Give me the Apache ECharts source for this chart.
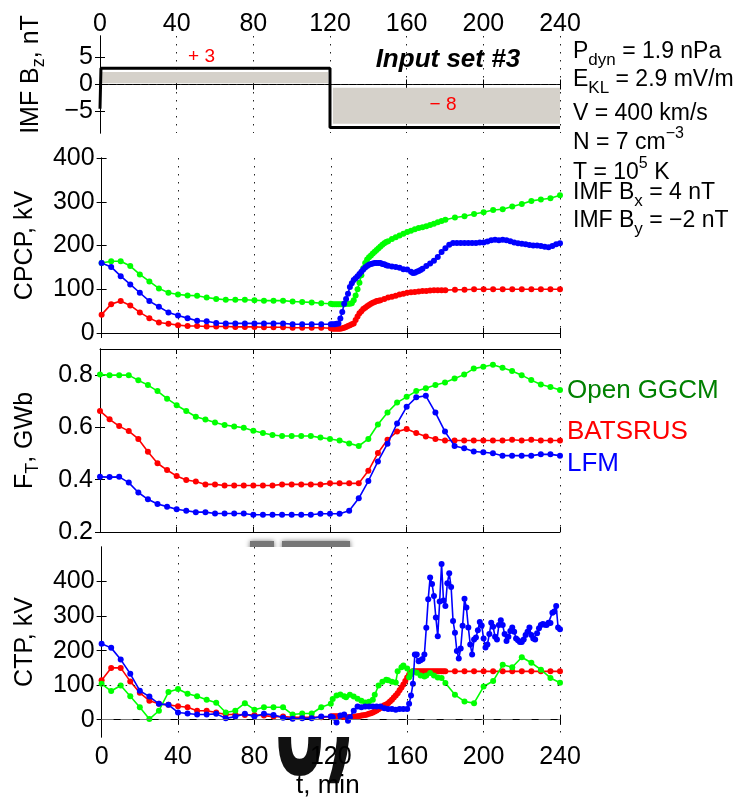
<!DOCTYPE html>
<html>
<head>
<meta charset="utf-8">
<script src="https://cdn.jsdelivr.net/npm/echarts@6/dist/echarts.min.js"></script>
<style>
  html, body { margin: 0; padding: 0; background: #fff; }
  #chart { width: 735px; height: 801px; }
</style>
</head>
<body>
<div id="chart"></div>
<script>
// ---------- data ----------
const timeMin = 0, timeMax = 240, timeStep = 40;

// IMF Bz input (nT)
const bzTime = [0, 0.5, 120, 120, 240];
const bzValue = [-4.5, 3, 3, -8, -8];
// shaded Bz bands: [t0, t1, low, high]
const bzBands = [[1, 119, 0.25, 2.3], [121.5, 240, -0.6, -7.3]];
// Bz panel notes: [t, value, text]
const bzNotes = [[53, 5.1, '+ 3'], [179, -3.7, '\u2212 8']];
const bzTitle = [181.5, 4.6, 'Input set #3'];

// tick labels
const bzTicks = [-5, 0, 5];
const cpcpTicks = [0, 100, 200, 300, 400];
const ftTicks = [0.2, 0.4, 0.6, 0.8];
const ctpTicks = [0, 100, 200, 300, 400];

// CPCP, kV
const cpcpGgcm = [[0,160],[5,164],[10,164],[15,153],[20,134],[25,118],[30,102],[35,92],[40,88],[45,86],[50,85],[55,81],[60,78],[65,76],[70,76],[75,76],[80,75],[85,74],[90,74],[95,74],[100,72],[105,71],[110,70],[115,68],[120,67],
  [121,66],[122,66],[123,66],[124,66],[125,66],[126,66],[127,66],[128,67],[129,67],[130,67],[131,68],[132,75],[133,86],[134,100],[135,115],[136,132],[137,148],[138,160],[139,168],[140,173],[141,177],[142,182],[143,186],[144,190],[145,194],[146,198],[147,202],[148,205],[149,208],[150,210],[152,215],[154,219],[156,223],[158,227],[160,231],[162,234],[164,237],[166,240],[168,242],[170,244],[172,247],[174,250],[176,253],[178,256],[180,259],
  [185,264],[190,267],[195,272],[200,276],[205,281],[210,283],[215,289],[220,295],[225,302],[230,305],[235,308],[240,315]];
const cpcpBats = [[0,42],[5,66],[10,73],[15,63],[20,47],[25,34],[30,24],[35,21],[40,18],[45,16],[50,16],[55,15],[60,15],[65,15],[70,14],[75,14],[80,14],[85,13],[90,13],[95,13],[100,12],[105,12],[110,12],[115,12],[120,11],
  [121,10],[122,10],[123,10],[124,10],[125,10],[126,11],[127,12],[128,14],[129,16],[130,18],[131,20],[132,22],[133,30],[134,38],[135,45],[136,50],[137,55],[138,58],[139,61],[140,64],[141,67],[142,69],[143,71],[144,73],[145,74],[146,75],[148,78],[150,81],[152,83],[154,85],[156,88],[158,90],[160,92],[162,93],[164,94],[166,95],[168,96],[170,96],[172,97],[174,98],[176,98],[178,98],[180,98],
  [185,99],[190,99],[195,100],[200,100],[205,100],[210,100],[215,100],[220,100],[225,100],[230,100],[235,100],[240,100]];
const cpcpLfm = [[0,160],[5,151],[10,130],[15,111],[20,92],[25,73],[30,60],[35,47],[40,40],[45,34],[50,28],[55,27],[60,23],[65,22],[70,22],[75,22],[80,22],[85,22],[90,22],[95,22],[100,20],[105,20],[110,20],[115,20],[120,20],
  [121,20],[122,20],[123,21],[124,22],[125,33],[126,48],[127,67],[128,78],[129,90],[130,105],[131,114],[132,121],[133,125],[134,130],[135,135],[136,140],[137,145],[138,150],[139,153],[140,156],[141,158],[142,159],[143,160],[144,160],[145,160],[146,160],[147,158],[148,157],[149,155],[150,154],[152,152],[154,151],[156,149],[158,146],[160,145],[162,140],[163,137],[164,138],[165,140],[166,142],[167,144],[168,147],[170,153],[172,159],[174,165],[176,174],[178,185],[180,194],[182,202],[184,206],[186,206],[188,206],[190,206],[192,206],[194,206],[196,206],[198,207],[200,207],[202,209],[204,212],[206,213],[208,212],[210,213],[212,212],[214,210],[216,207],[218,205],[220,204],[222,203],[224,201],[226,200],[228,200],[230,199],[232,197],[234,196],[236,199],[238,203],[240,205]];

// F_T, GWb
const ftGgcm = [[0,0.802],[5,0.80],[10,0.80],[15,0.80],[20,0.78],[25,0.762],[30,0.739],[35,0.71],[40,0.685],[45,0.663],[50,0.641],[55,0.63],[60,0.619],[65,0.609],[70,0.604],[75,0.599],[80,0.587],[85,0.579],[90,0.571],[95,0.567],[100,0.567],[105,0.567],[110,0.567],[115,0.561],[120,0.556],[125,0.55],[130,0.539],[135,0.529],[140,0.556],[145,0.611],[150,0.657],[155,0.695],[160,0.717],[165,0.739],[170,0.75],[175,0.762],[180,0.772],[185,0.787],[190,0.802],[195,0.825],[200,0.832],[205,0.84],[210,0.828],[215,0.816],[220,0.80],[225,0.781],[230,0.764],[235,0.755],[240,0.743]];
const ftBats = [[0,0.663],[5,0.631],[10,0.605],[15,0.586],[20,0.556],[25,0.507],[30,0.463],[35,0.437],[40,0.414],[45,0.399],[50,0.393],[55,0.382],[60,0.382],[65,0.378],[70,0.378],[75,0.378],[80,0.378],[85,0.378],[90,0.378],[95,0.382],[100,0.382],[105,0.382],[110,0.382],[115,0.382],[120,0.386],[125,0.386],[130,0.386],[135,0.386],[140,0.434],[145,0.502],[150,0.553],[155,0.584],[160,0.594],[165,0.579],[170,0.565],[175,0.556],[180,0.55],[185,0.55],[190,0.55],[195,0.55],[200,0.55],[205,0.55],[210,0.55],[215,0.553],[220,0.55],[225,0.553],[230,0.55],[235,0.55],[240,0.55]];
const ftLfm = [[0,0.411],[5,0.41],[10,0.411],[15,0.389],[20,0.351],[25,0.325],[30,0.307],[35,0.297],[40,0.287],[45,0.281],[50,0.276],[55,0.276],[60,0.271],[65,0.271],[70,0.271],[75,0.271],[80,0.266],[85,0.266],[90,0.266],[95,0.266],[100,0.266],[105,0.266],[110,0.266],[115,0.27],[120,0.27],[125,0.27],[130,0.281],[135,0.329],[140,0.395],[145,0.47],[150,0.538],[155,0.615],[160,0.679],[165,0.715],[170,0.721],[175,0.657],[180,0.584],[185,0.529],[190,0.52],[195,0.508],[200,0.505],[205,0.501],[210,0.492],[215,0.492],[220,0.492],[225,0.492],[230,0.497],[235,0.497],[240,0.492]];

// CTP, kV
const ctpGgcm = [[0,104],[5,83],[10,99],[15,68],[20,36],[25,2],[30,26],[35,80],[40,89],[45,75],[50,68],[55,58],[60,49],[65,21],[70,26],[75,48],[80,29],[85,36],[90,36],[95,36],[100,15],[105,18],[110,18],[115,36],[120,46],
  [121,60],[123,70],[125,73],[127,68],[128,65],[130,72],[132,67],[134,61],[136,55],[138,50],[140,52],[142,58],[143,72],[145,99],[147,110],[149,116],[150,114],[152,110],[154,108],[155,140],[157,152],[158,157],[160,148],[161,123],[162,132],[163,140],[165,136],[167,128],[169,125],[170,128],[172,135],[174,128],[176,122],[178,121],[180,106],
  [185,72],[190,53],[195,48],[200,96],[205,112],[210,159],[215,152],[220,181],[225,165],[230,145],[235,121],[240,107]];
const ctpBats = [[0,114],[5,150],[10,150],[15,111],[20,78],[25,55],[30,46],[35,43],[40,39],[45,36],[50,26],[55,26],[60,21],[65,15],[70,15],[75,14],[80,14],[85,12],[90,9],[95,9],[100,7],[105,7],[110,7],[115,7],[120,9],
  [121,10],[122,10],[123,10],[124,10],[125,10],[126,9],[127,8],[128,7],[129,7],[130,7],[131,8],[132,8],[133,9],[134,10],[135,11],[136,12],[137,13],[138,14],[139,15],[140,17],[141,19],[142,21],[143,24],[144,27],[145,30],[146,34],[147,38],[148,42],[149,44],[150,48],[151,53],[152,58],[153,64],[154,70],[155,77],[156,85],[157,93],[158,102],[159,112],[160,122],[161,131],[162,137],[163,140],[164,140],[165,140],[166,140],[167,140],[168,140],[169,140],[170,140],[171,140],[172,140],[173,140],[174,140],[175,140],[176,140],[177,140],[178,140],[179,140],[180,140],
  [185,140],[190,140],[195,140],[200,140],[205,140],[210,140],[215,140],[220,140],[225,140],[230,140],[235,140],[240,140]];
const ctpLfm = [[0,220],[5,208],[10,174],[15,133],[20,84],[25,67],[30,46],[35,43],[40,21],[45,18],[50,15],[55,15],[60,17],[65,4],[70,9],[75,17],[80,9],[85,17],[90,14],[95,6],[100,3],[105,4],[110,4],[115,9],[120,9],
  [121,7],[123,-8],[125,12],[127,15],[129,-3],[130,7],[132,26],[134,38],[136,36],[138,38],[140,38],[142,38],[144,38],[146,38],[148,33],[150,31],[152,31],[154,29],[156,31],[158,31],[160,31],[161,46],[162,70],[163,104],[164,189],[165,189],[166,169],[167,172],[168,176],[169,189],
  [170,266],[171,349],[172,412],[173,393],[174,358],[175,296],[176,242],[177,342],[178,451],[179,345],[180,329],[181,395],[182,424],[183,384],[184,286],[185,252],[186,199],[187,177],[188,206],[189,272],[190,350],[191,325],[192,267],[193,218],[194,189],[195,232],[196,238],[197,259],[198,283],[199,273],[200,235],[201,209],[202,218],[203,248],[204,281],[205,269],[206,240],[207,232],[208,274],[209,288],[210,274],[211,248],[212,228],[213,240],[214,257],[215,267],[216,255],[217,235],[218,230],[219,225],[220,225],[221,232],[222,245],[223,255],[224,267],[225,245],[226,235],[227,232],[228,250],[229,265],[230,274],[231,277],[232,275],[233,274],[234,281],[235,280],[236,310],[237,313],[238,329],[239,267],[240,262]];

// text
const modelNames = ['Open GGCM', 'BATSRUS', 'LFM'];
const solarWindLines = [
  'P{sub|dyn} = 1.9 nPa',
  'E{sub|KL} = 2.9 mV/m',
  'V = 400 km/s',
  'N = 7 cm{sup|\u22123}',
  'T = 10{sup|5} K',
  'IMF B{sub|x} = 4 nT',
  'IMF B{sub|y} = \u22122 nT'
];

// ---------- layout & styles ----------
const FONT = '"Liberation Sans", Arial, Helvetica, sans-serif';
const GREEN = '#00ff00', RED = '#ff0000', BLUE = '#0000ff';
const LEFT = 100, RIGHT = 175;
const panels = [
  { top: 36,  height: 97,  min: -9,  max: 9,   ticks: bzTicks,   name: 'IMF B{sub|z}, nT', gap: 52, pad: [0, 0, 0, 20], dec: 0 },
  { top: 158, height: 175, min: 0,   max: 400, ticks: cpcpTicks, name: 'CPCP, kV',        gap: 55, pad: 0, dec: 0 },
  { top: 349, height: 183, min: 0.2, max: 0.9, ticks: ftTicks,   name: 'F{sub|T}, GWb',   gap: 58, pad: 0, dec: 1 },
  { top: 547, height: 190, min: -50, max: 500, ticks: ctpTicks,  name: 'CTP, kV',         gap: 55, pad: 0, dec: 0 }
];

const fmt = (v, dec) => v.toFixed(dec).replace('-', '\u2212');
const axisLineStyle = { show: true, lineStyle: { color: '#000', width: 1 } };
const tickStyle = { show: true, inside: true, length: 5, lineStyle: { color: '#000', width: 1 } };
const richName = {
  sub: { fontSize: 18, lineHeight: 18, verticalAlign: 'bottom', fontFamily: FONT, color: '#000' }
};

const grid = [], xAxis = [], yAxis = [];
panels.forEach((p, i) => {
  grid.push({ left: LEFT, right: RIGHT, top: p.top, height: p.height, show: true,
              backgroundColor: '#fff', borderWidth: 0, z: 0 });
  const last = i === panels.length - 1;
  // bottom x axis (carries the dotted vertical grid)
  xAxis.push({
    type: 'value', gridIndex: i, position: 'bottom', min: timeMin, max: timeMax, interval: timeStep,
    axisLine: axisLineStyle, axisTick: tickStyle,
    axisLabel: { show: last, fontSize: 25, fontFamily: FONT, color: '#000', margin: 8 },
    splitLine: { show: true, lineStyle: { color: '#222', width: 1, type: [1.5, 6.5] } },
    name: last ? 't, min' : '', nameLocation: 'middle', nameGap: 36,
    nameTextStyle: { fontSize: 26, fontFamily: FONT, color: '#000', padding: [0, 6, 0, 0] }
  });
  // top x axis
  xAxis.push({
    type: 'value', gridIndex: i, position: 'top', min: timeMin, max: timeMax, interval: timeStep,
    axisLine: axisLineStyle, axisTick: tickStyle,
    axisLabel: { show: i === 0, fontSize: 25, fontFamily: FONT, color: '#000', margin: 12, verticalAlign: 'middle' },
    splitLine: { show: false }
  });
  yAxis.push({
    type: 'value', gridIndex: i, position: 'left', min: p.min, max: p.max,
    axisLine: axisLineStyle,
    axisTick: Object.assign({ customValues: p.ticks }, tickStyle),
    axisLabel: { customValues: p.ticks, fontSize: 25, fontFamily: FONT, color: '#000', margin: 7,
                 formatter: v => fmt(v, p.dec) },
    splitLine: { show: false },
    name: p.name, nameLocation: 'middle', nameRotate: 90, nameGap: p.gap,
    nameTextStyle: { fontSize: 25, lineHeight: 34, fontFamily: FONT, color: '#000', padding: p.pad, rich: richName }
  });
  yAxis.push({
    type: 'value', gridIndex: i, position: 'right', min: p.min, max: p.max,
    axisLine: axisLineStyle,
    axisTick: Object.assign({ customValues: p.ticks }, tickStyle),
    axisLabel: { show: false },
    splitLine: { show: false }
  });
});

function modelLine(data, color, panel, z) {
  return {
    type: 'line', data, xAxisIndex: 2 * panel, yAxisIndex: 2 * panel,
    symbol: 'circle', symbolSize: 6, showSymbol: true, showAllSymbol: true,
    lineStyle: { color, width: 1.6 }, itemStyle: { color }, z, silent: true
  };
}

const series = [
  {
    type: 'line', xAxisIndex: 0, yAxisIndex: 0,
    data: bzTime.map((t, k) => [t, bzValue[k]]),
    symbol: 'none', lineStyle: { color: '#000', width: 3 }, z: 5, silent: true,
    markArea: {
      silent: true, itemStyle: { color: '#d5d1ca', opacity: 1 },
      data: bzBands.map(b => [{ coord: [b[0], b[3]] }, { coord: [b[1], b[2]] }])
    },
    markLine: {
      silent: true, symbol: 'none', label: { show: false },
      lineStyle: { color: '#222', width: 1, type: [1.5, 6.5] },
      data: [{ yAxis: 0 }]
    }
  },
  modelLine(cpcpBats, RED, 1, 2), modelLine(cpcpGgcm, GREEN, 1, 3), modelLine(cpcpLfm, BLUE, 1, 4),
  modelLine(ftBats, RED, 2, 2), modelLine(ftGgcm, GREEN, 2, 3), modelLine(ftLfm, BLUE, 2, 4),
  Object.assign(modelLine(ctpBats, RED, 3, 2), {
    markLine: {
      silent: true, symbol: 'none', label: { show: false },
      data: [
        { yAxis: 0, lineStyle: { color: '#777', width: 1.2, type: [12, 7] } },
        { yAxis: 100, lineStyle: { color: '#222', width: 1, type: [1.5, 6.5] } }
      ]
    }
  }),
  modelLine(ctpGgcm, GREEN, 3, 3), modelLine(ctpLfm, BLUE, 3, 4)
];

// side annotations
const richSide = {
  sub: { fontSize: 17, lineHeight: 17, verticalAlign: 'bottom', fontFamily: FONT, fill: '#000' },
  sup: { fontSize: 16, lineHeight: 16, verticalAlign: 'top', fontFamily: FONT, fill: '#000' }
};
const sideY = [52, 80, 114, 143, 173, 193, 221];
const graphic = solarWindLines.map((s, k) => ({
  type: 'text', x: 573, y: sideY[k], silent: true,
  style: { text: s, fontSize: 23, fontFamily: FONT, fill: '#000', lineHeight: 34,
           verticalAlign: 'middle', align: 'left', rich: richSide }
}));
const labelColors = ['#008000', RED, BLUE];
const labelY = [391, 432, 464];
modelNames.forEach((n, k) => graphic.push({
  type: 'text', x: 567, y: labelY[k], silent: true,
  style: { text: n, fontSize: 26, fontFamily: FONT, fill: labelColors[k], verticalAlign: 'middle', align: 'left' }
}));
// large blurred glyphs sitting behind the lower panel
graphic.push({
  type: 'text', x: 272, y: 742, z: -5, scaleX: 0.55, silent: true,
  style: { text: 'U', font: 'bold 124px "DejaVu Sans"', fill: '#111', verticalAlign: 'middle', align: 'left',
           shadowBlur: 3, shadowColor: 'rgba(0,0,0,0.8)' }
});
graphic.push({
  type: 'text', x: 322, y: 735, z: -5, scaleX: 0.6, silent: true,
  style: { text: ')', font: 'bold 124px "DejaVu Sans"', fill: '#111', verticalAlign: 'middle', align: 'left',
           shadowBlur: 3, shadowColor: 'rgba(0,0,0,0.8)' }
});
graphic.push({
  type: 'rect', z: -5, silent: true, shape: { x: 250, y: 541, width: 24, height: 12 },
  style: { fill: '#777', shadowBlur: 5, shadowColor: '#777' }
});
graphic.push({
  type: 'rect', z: -5, silent: true, shape: { x: 282, y: 541, width: 68, height: 12 },
  style: { fill: '#777', shadowBlur: 5, shadowColor: '#777' }
});

const chart = echarts.init(document.getElementById('chart'), null, { renderer: 'canvas' });
chart.setOption({
  animation: false,
  backgroundColor: '#fff',
  textStyle: { fontFamily: FONT },
  grid, xAxis, yAxis, series, graphic
});

// notes inside the Bz panel, placed through the panel's own axes
const notePx = (t, v) => chart.convertToPixel({ xAxisIndex: 0, yAxisIndex: 0 }, [t, v]);
const noteEls = bzNotes.map(n => {
  const p = notePx(n[0], n[1]);
  return { type: 'text', x: p[0], y: p[1], z: 10, silent: true,
           style: { text: n[2], fontSize: 19, fontFamily: FONT, fill: RED, align: 'center', verticalAlign: 'middle' } };
});
const tp = notePx(bzTitle[0], bzTitle[1]);
noteEls.push({ type: 'text', x: tp[0], y: tp[1], z: 10, silent: true,
  style: { text: bzTitle[2], fontSize: 26, fontFamily: FONT, fontWeight: 'bold', fontStyle: 'italic',
           fill: '#000', align: 'center', verticalAlign: 'middle' } });
chart.setOption({ graphic: graphic.concat(noteEls) });
</script>
</body>
</html>
